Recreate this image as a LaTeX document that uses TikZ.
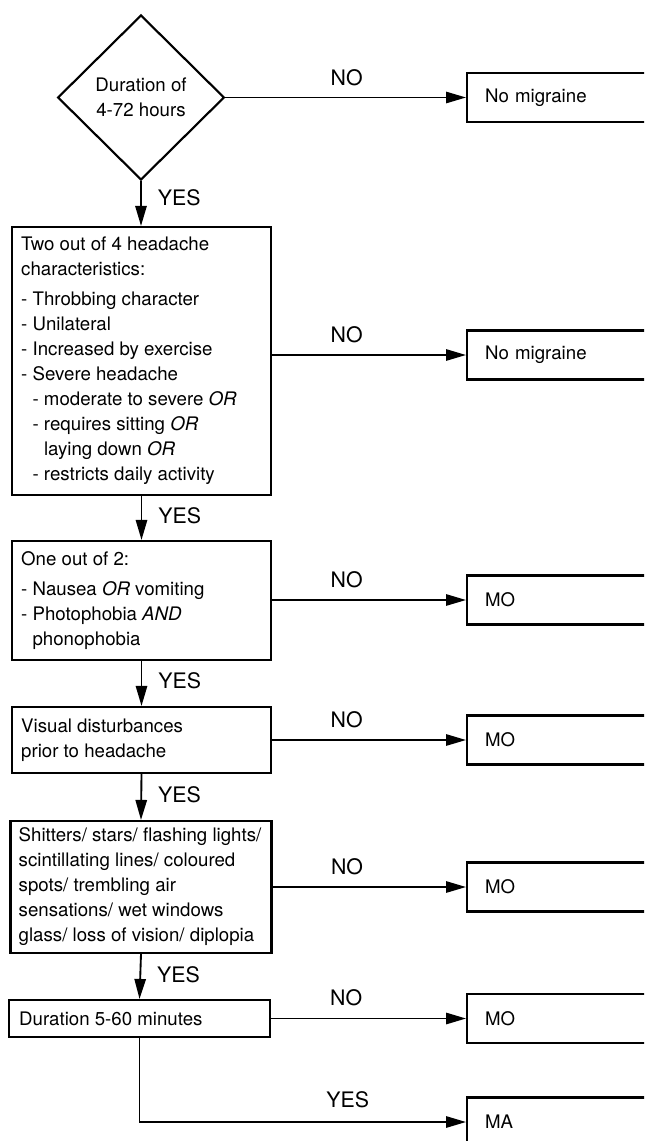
\documentclass[tikz,border=0pt]{standalone}
\usepackage{fontspec}
\setmainfont{TeX Gyre Heros}
\usetikzlibrary{shapes.geometric,arrows.meta}
\newcommand\ind{\hspace*{0.611em}}
\begin{document}
\begin{tikzpicture}[x=0.75pt,y=-0.75pt,
  every node/.style={font=\fontsize{14}{18.75}\selectfont},
  box/.style={draw, line width=1.6pt, inner sep=0pt},
  txt/.style={align=left, inner sep=0pt, anchor=west},
  rbox/.style={draw, line width=1.6pt, anchor=west, minimum height=36.75pt, text width=185pt, inner xsep=13.5pt, align=left},
  dec/.style={draw, diamond, line width=1.6pt, minimum width=125pt, minimum height=123.75pt, inner sep=0pt, align=center},
  conn/.style={line width=1.4pt, -{Triangle[length=15pt,width=8.5pt]}},
  lab/.style={font=\fontsize{16}{19}\selectfont, inner sep=0pt},
]
\useasboundingbox (0,0) rectangle (644,1141);
\clip (0,0) rectangle (644,1141);

% decision
\node[dec] (d) at (141,97.5) {Duration of\\4-72 hours};

% left boxes
\node[box, minimum width=194.25pt, minimum height=201pt] (b2) at (141.5,361) {};
\node[txt] (t2) at ([xshift=7.5pt]b2.west) {Two out of 4 headache\\characteristics:\\[4pt]- Throbbing character\\- Unilateral\\- Increased by exercise\\- Severe headache\\\ind- moderate to severe \textit{OR}\\\ind- requires sitting \textit{OR}\\\ind\ind laying down \textit{OR}\\\ind- restricts daily activity};

\node[box, minimum width=194.25pt, minimum height=89.25pt] (b3) at (141.5,600.5) {};
\node[txt] (t3) at ([xshift=7.5pt]b3.west) {One out of 2:\\[4pt]- Nausea \textit{OR} vomiting\\- Photophobia \textit{AND}\\\ind phonophobia};

\node[box, minimum width=194.25pt, minimum height=49.5pt] (b4) at (141.5,740) {};
\node[txt] (t4) at ([xshift=7.5pt]b4.west) {Visual disturbances\\prior to headache};

\node[box, minimum width=195.75pt, minimum height=99pt] (b5) at (141,887) {};
\node[txt] (t5) at ([xshift=6.75pt]b5.west) {Shitters/ stars/ flashing lights/\\scintillating lines/ coloured\\spots/ trembling air\\sensations/ wet windows\\glass/ loss of vision/ diplopia};

\node[box, minimum width=195.75pt, minimum height=27.75pt] (b6) at (139.5,1018.5) {};
\node[txt] (t6) at ([xshift=8.25pt]b6.west) {Duration 5-60 minutes};

% right boxes
\node[rbox] (r1) at (466,97.5) {No migraine};
\node[rbox] (r2) at (466,355) {No migraine};
\node[rbox] (r3) at (466,600) {MO};
\node[rbox] (r4) at (466,740) {MO};
\node[rbox] (r5) at (466,887) {MO};
\node[rbox] (r6) at (466,1018.5) {MO};
\node[rbox] (r7) at (466,1122) {MA};

% NO connectors
\draw[conn] (d.east) -- node[lab, above=8.25pt, pos=0.504] {NO} (d.east -| r1.west);
\draw[conn] (b2.east |- r2.west) -- node[lab, above=8.25pt, pos=0.385] {NO} (r2.west);
\draw[conn] (b3.east |- r3.west) -- node[lab, above=8.25pt, pos=0.385] {NO} (r3.west);
\draw[conn] (b4.east |- r4.west) -- node[lab, above=8.25pt, pos=0.385] {NO} (r4.west);
\draw[conn] (b5.east |- r5.west) -- node[lab, above=8.25pt, pos=0.385] {NO} (r5.west);
\draw[conn] (b6.east |- r6.west) -- node[lab, above=9pt, pos=0.385] {NO} (r6.west);

% YES connectors
\draw[conn] (d.south) -- node[lab, midway, anchor=west, xshift=12pt, yshift=4pt] {YES} (d.south |- b2.north);
\draw[conn] (b2.south) -- node[lab, midway, anchor=west, xshift=12pt, yshift=2pt] {YES} (b3.north);
\draw[conn] (b3.south) -- node[lab, midway, anchor=west, xshift=12pt, yshift=2pt] {YES} (b4.north);
\draw[conn] (b4.south) -- node[lab, midway, anchor=west, xshift=12pt, yshift=2pt] {YES} (b5.north);
\draw[conn] (b5.south) -- node[lab, midway, anchor=west, xshift=12pt, yshift=1pt] {YES} (b6.north);
\draw[conn] (b6.south) |- node[lab, above=9.75pt, pos=0.819] {YES} (r7.west);
\end{tikzpicture}
\end{document}
